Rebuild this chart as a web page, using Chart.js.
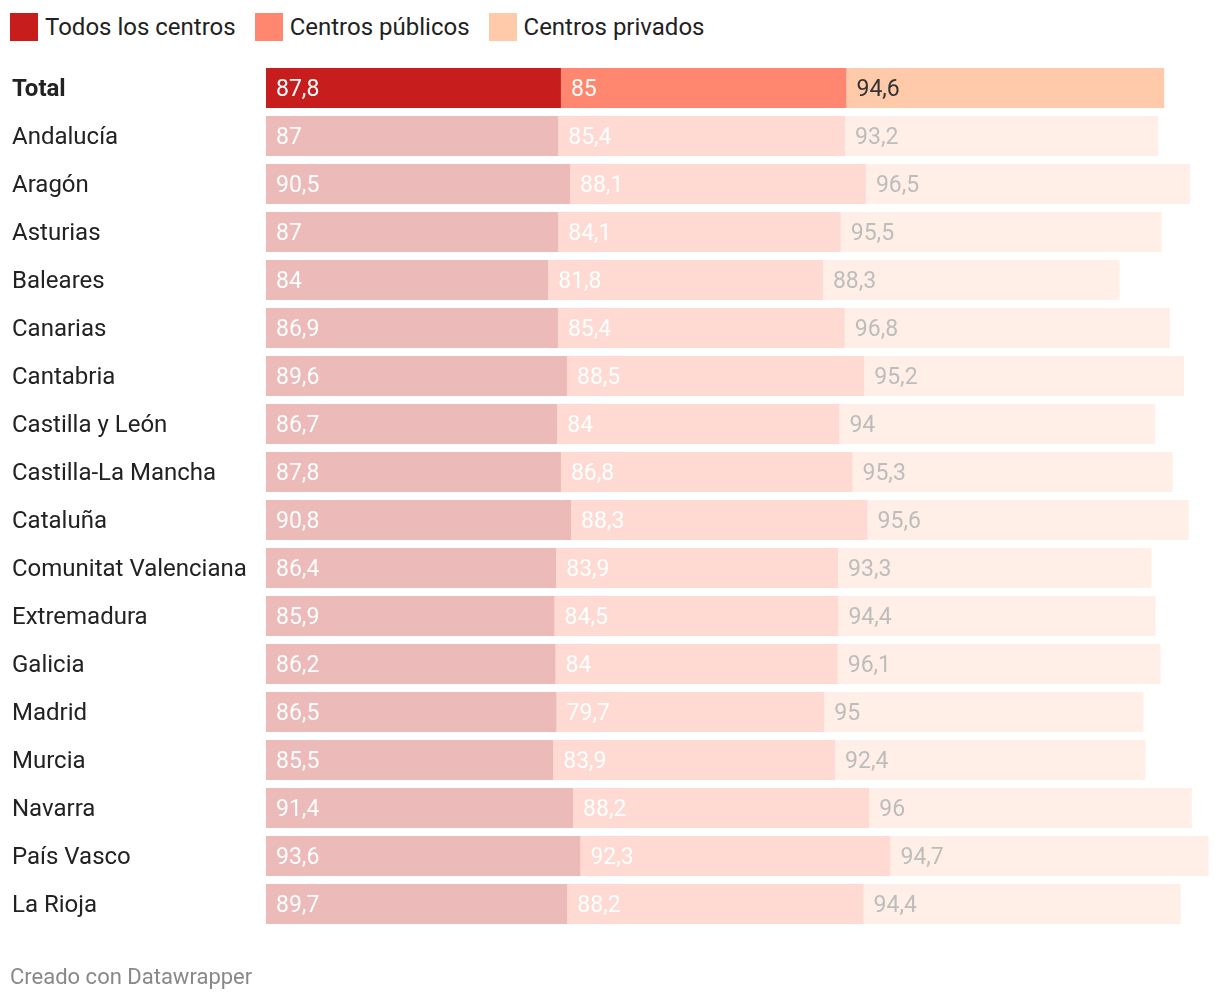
<!DOCTYPE html>
<html>
<head>
<meta charset="utf-8">
<script src="https://cdn.jsdelivr.net/npm/chart.js@4"></script>
<style>
  html, body { margin: 0; padding: 0; background: #fff; }
  body { width: 1220px; height: 1002px; position: relative; font-family: Roboto, sans-serif; overflow: hidden; }
  #legend { position: absolute; left: 10px; top: 13px; height: 28px; display: flex; align-items: center; font-size: 24px; color: #222; }
  #legend .item { display: flex; align-items: center; margin-right: 19px; }
  #legend .box { width: 28px; height: 28px; margin-right: 7px; }
  #chartWrap { position: absolute; left: 0; top: 0; width: 1220px; height: 1002px; }
  #footer { position: absolute; left: 10px; top: 964px; font-size: 22px; color: #888; }
</style>
</head>
<body>
<div id="legend"></div>
<div id="chartWrap"><canvas id="chart"></canvas></div>
<div id="footer">Creado con Datawrapper</div>
<script>
// Datos
const regions = ['Total', 'Andalucía', 'Aragón', 'Asturias', 'Baleares', 'Canarias', 'Cantabria',
  'Castilla y León', 'Castilla-La Mancha', 'Cataluña', 'Comunitat Valenciana', 'Extremadura',
  'Galicia', 'Madrid', 'Murcia', 'Navarra', 'País Vasco', 'La Rioja'];
const todos =    [87.8, 87, 90.5, 87, 84, 86.9, 89.6, 86.7, 87.8, 90.8, 86.4, 85.9, 86.2, 86.5, 85.5, 91.4, 93.6, 89.7];
const publicos = [85, 85.4, 88.1, 84.1, 81.8, 85.4, 88.5, 84, 86.8, 88.3, 83.9, 84.5, 84, 79.7, 83.9, 88.2, 92.3, 88.2];
const privados = [94.6, 93.2, 96.5, 95.5, 88.3, 96.8, 95.2, 94, 95.3, 95.6, 93.3, 94.4, 96.1, 95, 92.4, 96, 94.7, 94.4];
const seriesNames = ['Todos los centros', 'Centros públicos', 'Centros privados'];

// Colores: fila Total destacada, resto atenuado
const fullColors = ['#c71e1d', '#ff8770', '#ffcaaa'];
const fadedColors = ['#ebbab9', '#ffdad3', '#ffefe6'];
const labelFull = ['#ffffff', '#ffffff', '#333333'];
const labelFaded = ['#ffffff', '#ffffff', '#bdbdbd'];

// Leyenda HTML
const legendEl = document.getElementById('legend');
seriesNames.forEach((name, i) => {
  const item = document.createElement('div');
  item.className = 'item';
  item.innerHTML = '<span class="box" style="background:' + fullColors[i] + '"></span><span>' + name + '</span>';
  legendEl.appendChild(item);
});

const fmt = v => String(v).replace('.', ',');

// Etiquetas de valor dentro de cada segmento
const valueLabels = {
  id: 'valueLabels',
  afterDatasetsDraw(chart) {
    const ctx = chart.ctx;
    ctx.save();
    ctx.font = '23px Roboto, sans-serif';
    ctx.textBaseline = 'middle';
    ctx.textAlign = 'left';
    chart.data.datasets.forEach((ds, di) => {
      const meta = chart.getDatasetMeta(di);
      meta.data.forEach((bar, i) => {
        ctx.fillStyle = i === 0 ? labelFull[di] : labelFaded[di];
        ctx.fillText(fmt(ds.data[i]), bar.base + 10, bar.y + 2);
      });
    });
    ctx.restore();
  }
};

const makeDataset = (label, data, idx) => ({
  label: label,
  data: data,
  backgroundColor: ctx => ctx.dataIndex === 0 ? fullColors[idx] : fadedColors[idx],
  borderWidth: 0,
  categoryPercentage: 1,
  barPercentage: 40 / 48
});

new Chart(document.getElementById('chart'), {
  type: 'bar',
  data: {
    labels: regions,
    datasets: [
      makeDataset(seriesNames[0], todos, 0),
      makeDataset(seriesNames[1], publicos, 1),
      makeDataset(seriesNames[2], privados, 2)
    ]
  },
  options: {
    indexAxis: 'y',
    responsive: true,
    maintainAspectRatio: false,
    animation: false,
    layout: { padding: { left: 12, right: 0, top: 64, bottom: 74 } },
    scales: {
      x: {
        stacked: true,
        min: 0,
        max: 284,
        display: false
      },
      y: {
        stacked: true,
        grid: { display: false },
        border: { display: false },
        afterFit(scale) { scale.width = 254; },
        ticks: {
          crossAlign: 'far',
          padding: 0,
          labelOffset: 2,
          color: '#222',
          font: ctx => ({
            family: 'Roboto, sans-serif',
            size: 24,
            weight: ctx.index === 0 ? 'bold' : 'normal'
          })
        }
      }
    },
    plugins: {
      legend: { display: false },
      tooltip: { enabled: false }
    }
  },
  plugins: [valueLabels]
});
</script>
</body>
</html>
